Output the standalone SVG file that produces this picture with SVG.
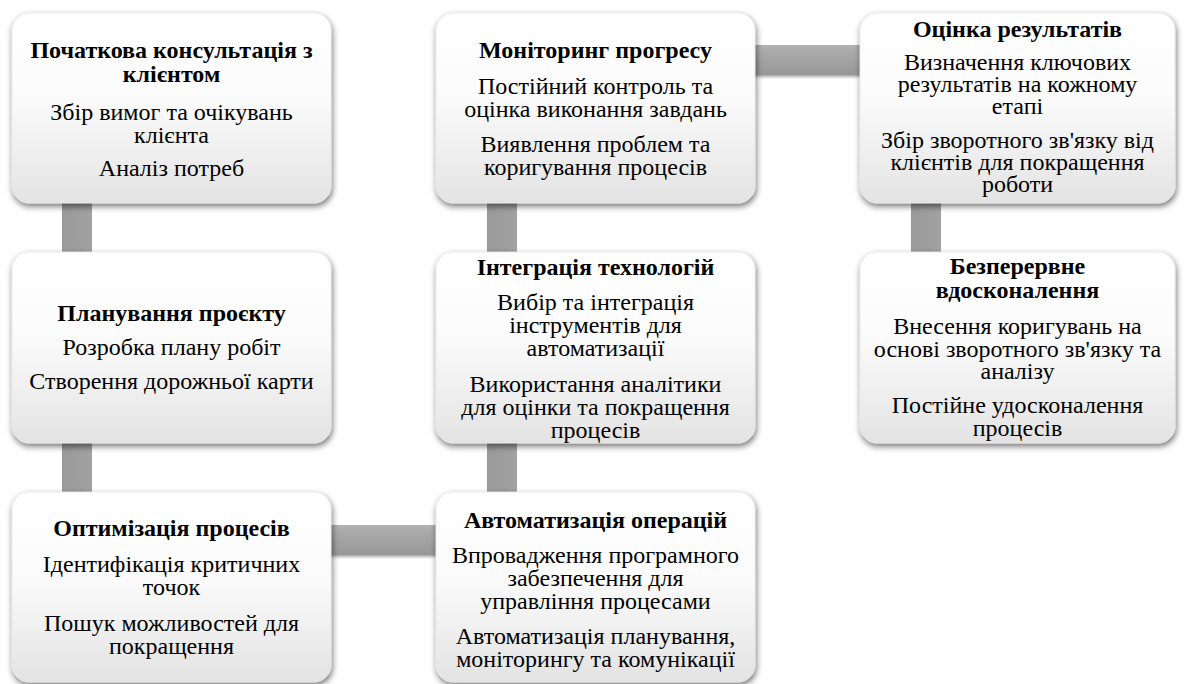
<svg xmlns="http://www.w3.org/2000/svg" width="1184" height="684" viewBox="0 0 1184 684">
<defs>
<linearGradient id="nodeFill" x1="0" y1="0" x2="0" y2="1">
<stop offset="0" stop-color="#ffffff"/>
<stop offset="0.45" stop-color="#fbfbfb"/>
<stop offset="1" stop-color="#e3e3e3"/>
</linearGradient>
<linearGradient id="barH" x1="0" y1="0" x2="0" y2="1">
<stop offset="0" stop-color="#b0b0b0"/>
<stop offset="1" stop-color="#979797"/>
</linearGradient>
<linearGradient id="barV" x1="0" y1="0" x2="1" y2="0">
<stop offset="0" stop-color="#9a9a9a"/>
<stop offset="1" stop-color="#a2a2a2"/>
</linearGradient>
<filter id="shadow" x="-10%" y="-10%" width="125%" height="130%">
<feDropShadow dx="1" dy="3" stdDeviation="3" flood-color="#000" flood-opacity="0.55"/>
</filter>
<filter id="barShadow" x="-20%" y="-20%" width="140%" height="160%">
<feDropShadow dx="0" dy="2" stdDeviation="1.5" flood-color="#000" flood-opacity="0.35"/>
</filter>
</defs>
<style>
.box{fill:url(#nodeFill);stroke:#e6e6e6;stroke-width:0.8;filter:url(#shadow)}
.t{font-weight:bold;font-size:24px;fill:#000;text-anchor:middle}
.b{font-size:24px;fill:#000;text-anchor:middle}
.h{fill:url(#barH);filter:url(#barShadow)}
.v{fill:url(#barV)}
</style>
<rect width="1184" height="684" fill="#ffffff"/>
<g id="connectors">
<rect class="v" x="62" y="180" width="30" height="100"/>
<rect class="v" x="62" y="420" width="30" height="100"/>
<rect class="h" x="300" y="525" width="160" height="30"/>
<rect class="v" x="487" y="420" width="30" height="100"/>
<rect class="v" x="487" y="180" width="30" height="100"/>
<rect class="h" x="725" y="45" width="160" height="30"/>
<rect class="v" x="911" y="180" width="30" height="100"/>
</g>
<g font-family="'Liberation Serif', 'DejaVu Serif', serif">
<g id="node1">
<rect class="box" x="12" y="13" width="319" height="190" rx="17"/>
<text class="t" x="171.5" y="58">Початкова консультація з</text>
<text class="t" x="171.5" y="82">клієнтом</text>
<text class="b" x="171.5" y="120">Збір вимог та очікувань</text>
<text class="b" x="171.5" y="143">клієнта</text>
<text class="b" x="171.5" y="176">Аналіз потреб</text>
</g>
<g id="node2">
<rect class="box" x="12" y="252" width="319" height="191" rx="17"/>
<text class="t" x="171.5" y="321">Планування проєкту</text>
<text class="b" x="171.5" y="355">Розробка плану робіт</text>
<text class="b" x="171.5" y="389">Створення дорожньої карти</text>
</g>
<g id="node3">
<rect class="box" x="12" y="492" width="319" height="190" rx="17"/>
<text class="t" x="171.5" y="536">Оптимізація процесів</text>
<text class="b" x="171.5" y="572">Ідентифікація критичних</text>
<text class="b" x="171.5" y="595">точок</text>
<text class="b" x="171.5" y="631">Пошук можливостей для</text>
<text class="b" x="171.5" y="654">покращення</text>
</g>
<g id="node4">
<rect class="box" x="436" y="492" width="319" height="190" rx="17"/>
<text class="t" x="595.5" y="528">Автоматизація операцій</text>
<text class="b" x="595.5" y="563">Впровадження програмного</text>
<text class="b" x="595.5" y="586">забезпечення для</text>
<text class="b" x="595.5" y="609">управління процесами</text>
<text class="b" x="595.5" y="644">Автоматизація планування,</text>
<text class="b" x="595.5" y="667">моніторингу та комунікації</text>
</g>
<g id="node5">
<rect class="box" x="436" y="252" width="319" height="191" rx="17"/>
<text class="t" x="595.5" y="275">Інтеграція технологій</text>
<text class="b" x="595.5" y="310">Вибір та інтеграція</text>
<text class="b" x="595.5" y="333">інструментів для</text>
<text class="b" x="595.5" y="356">автоматизації</text>
<text class="b" x="595.5" y="392">Використання аналітики</text>
<text class="b" x="595.5" y="415">для оцінки та покращення</text>
<text class="b" x="595.5" y="438">процесів</text>
</g>
<g id="node6">
<rect class="box" x="436" y="13" width="319" height="190" rx="17"/>
<text class="t" x="595.5" y="58">Моніторинг прогресу</text>
<text class="b" x="595.5" y="94">Постійний контроль та</text>
<text class="b" x="595.5" y="117">оцінка виконання завдань</text>
<text class="b" x="595.5" y="152">Виявлення проблем та</text>
<text class="b" x="595.5" y="175">коригування процесів</text>
</g>
<g id="node7">
<rect class="box" x="860" y="13" width="315" height="190" rx="17"/>
<text class="t" x="1017.5" y="37">Оцінка результатів</text>
<text class="b" x="1017.5" y="70">Визначення ключових</text>
<text class="b" x="1017.5" y="92">результатів на кожному</text>
<text class="b" x="1017.5" y="114">етапі</text>
<text class="b" x="1017.5" y="148">Збір зворотного зв'язку від</text>
<text class="b" x="1017.5" y="170">клієнтів для покращення</text>
<text class="b" x="1017.5" y="192">роботи</text>
</g>
<g id="node8">
<rect class="box" x="860" y="252" width="315" height="191" rx="17"/>
<text class="t" x="1017.5" y="274">Безперервне</text>
<text class="t" x="1017.5" y="298">вдосконалення</text>
<text class="b" x="1017.5" y="334">Внесення коригувань на</text>
<text class="b" x="1017.5" y="357">основі зворотного зв'язку та</text>
<text class="b" x="1017.5" y="379">аналізу</text>
<text class="b" x="1017.5" y="413">Постійне удосконалення</text>
<text class="b" x="1017.5" y="436">процесів</text>
</g>
</g>
</svg>
